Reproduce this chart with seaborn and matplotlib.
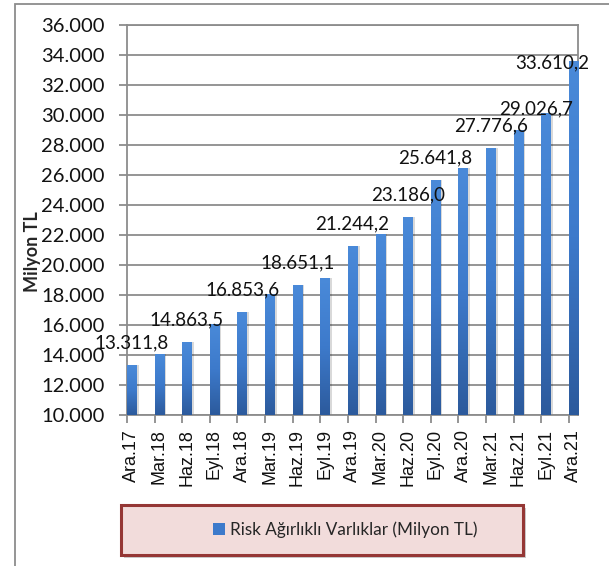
import numpy as np
import pandas as pd
import seaborn as sns
import matplotlib
matplotlib.use("Agg")
import matplotlib.pyplot as plt
from matplotlib.patches import Rectangle
from matplotlib.ticker import FixedLocator, FuncFormatter
from matplotlib.colors import LinearSegmentedColormap
import matplotlib.transforms as mtransforms

# Quarterly risk-weighted assets (million TL)
periods = ["Ara.17", "Mar.18", "Haz.18", "Eyl.18", "Ara.18", "Mar.19", "Haz.19",
           "Eyl.19", "Ara.19", "Mar.20", "Haz.20", "Eyl.20", "Ara.20", "Mar.21",
           "Haz.21", "Eyl.21", "Ara.21"]
values = [13311.8, 14050.0, 14863.5, 16100.0, 16853.6, 18100.0, 18651.1,
          19120.0, 21244.2, 22050.0, 23186.0, 25641.8, 26450.0, 27776.6,
          29026.7, 30150.0, 33610.2]
labeled = ["Ara.17", "Haz.18", "Ara.18", "Haz.19", "Ara.19", "Haz.20",
           "Eyl.20", "Mar.21", "Haz.21", "Ara.21"]
y_ticks = list(range(10000, 36001, 2000))
series_name = "Risk Ağırlıklı Varlıklar (Milyon TL)"
y_title = "Milyon TL"

df = pd.DataFrame({"period": periods, "value": values})

sns.set_theme(style="white")
plt.rcParams["font.family"] = ["Lato", "DejaVu Sans"]

W, H, DPI = 609, 566, 100
fig = plt.figure(figsize=(W / DPI, H / DPI), dpi=DPI)

def fx(px):
    return px / W

def fy(py):
    return 1 - py / H

# outer chart frame
fig.patches.append(Rectangle((fx(15), fy(600)), fx(700), fy(4) - fy(600),
                             transform=fig.transFigure, fill=False,
                             edgecolor="#8c8c8c", linewidth=1.3, zorder=0))

ax = fig.add_axes([fx(127), fy(415), fx(578) - fx(127), fy(25) - fy(415)])

bar_w = 0.33
y_min, y_max = 10000, 36000
sns.barplot(data=df, x="period", y="value", ax=ax, color="#3a73c4",
            width=bar_w, saturation=1, zorder=3, linewidth=0)

# vertical gradient and soft shadow on every bar
cmap = LinearSegmentedColormap.from_list("bar", ["#2c5a9c", "#3d7acb", "#4a8ad9"])
grad = np.linspace(0, 1, 256).reshape(-1, 1)
shadow_tr = mtransforms.offset_copy(ax.transData, fig=fig, x=2.5, y=0, units="dots")
for patch in list(ax.patches):
    x0, w, h = patch.get_x(), patch.get_width(), patch.get_height()
    top = patch.get_y() + h
    sh = Rectangle((x0, y_min), w, top - y_min, transform=shadow_tr,
                   facecolor="#000000", alpha=0.15, linewidth=0, zorder=2)
    ax.add_patch(sh)
    clip = Rectangle((x0, y_min), w, top - y_min, transform=ax.transData,
                     facecolor="none", linewidth=0)
    im = ax.imshow(grad, cmap=cmap, origin="lower", aspect="auto",
                   extent=(x0, x0 + w, y_min, top), zorder=3.5)
    im.set_clip_path(clip)

ax.set_ylim(y_min, y_max)
ax.set_xlim(-bar_w / 2, len(periods) - 1 + bar_w / 2)

grid_c = "#8c8c8c"
ax.yaxis.set_major_locator(FixedLocator(y_ticks))
ax.yaxis.set_major_formatter(FuncFormatter(lambda v, p: f"{int(v):,}".replace(",", ".")))
ax.set_axisbelow(True)
ax.yaxis.grid(True, color=grid_c, linewidth=1.3)
ax.xaxis.grid(False)
for s in ax.spines.values():
    s.set_color(grid_c)
    s.set_linewidth(1.3)
    s.set_visible(True)

ax.tick_params(axis="y", which="major", direction="out", length=6, width=1.3,
               color=grid_c, labelsize=14.5, labelcolor="#111111", pad=10, left=True)
ax.set_xticks(range(len(periods)))
ax.set_xticklabels(periods)
ax.tick_params(axis="x", which="major", length=0, labelsize=13,
               labelcolor="#111111", pad=10)
ax.set_xticks([i - bar_w / 2 for i in range(len(periods))], minor=True)
ax.tick_params(axis="x", which="minor", direction="out", length=6, width=1.3,
               color=grid_c, bottom=True)
for lab in ax.get_xticklabels():
    lab.set_rotation(90)
    lab.set_fontfamily(["Liberation Sans", "DejaVu Sans"])
ax.set_xlabel("")
ax.set_ylabel(y_title, fontsize=13, fontweight="bold")
ax.yaxis.set_label_coords(-0.19, 0.418)

def tr_fmt(v):
    s = f"{v:,.1f}"
    return s.replace(",", "X").replace(".", ",").replace("X", ".")

# value labels (pixel offsets from bar top)
nudge = {"Haz.21": (18, 15), "Ara.21": (-21, -8)}
for i, (p, v) in enumerate(zip(periods, values)):
    if p not in labeled:
        continue
    dx, dy = nudge.get(p, (0, 17))
    ax.annotate(tr_fmt(v), (i, v), xytext=(dx * 0.72, dy * 0.72),
                textcoords="offset points", ha="center", va="baseline",
                fontsize=13.5, color="#111111", zorder=6, annotation_clip=False)

# legend box
bx0, by0, bx1, by1 = 121, 505, 523, 555
fig.patches.append(Rectangle((fx(bx0 + 3), fy(by1 + 3)), fx(bx1 - bx0), fy(by0) - fy(by1),
                             transform=fig.transFigure, facecolor="#9a9a9a",
                             alpha=0.5, linewidth=0, zorder=1))
fig.patches.append(Rectangle((fx(bx0), fy(by1)), fx(bx1 - bx0), fy(by0) - fy(by1),
                             transform=fig.transFigure, facecolor="#f2dcdb",
                             edgecolor="#953735", linewidth=2.2, zorder=2))
handle = Rectangle((0, 0), 1, 1, facecolor="#3d7acb", edgecolor="none")
leg = fig.legend([handle], [series_name], loc="center",
                 bbox_to_anchor=(fx(345), fy(530)), frameon=False,
                 fontsize=12.3, handlelength=0.7, handleheight=0.7,
                 handletextpad=0.3, borderpad=0)
leg.set_zorder(5)

fig.savefig("out.png", dpi=DPI)
